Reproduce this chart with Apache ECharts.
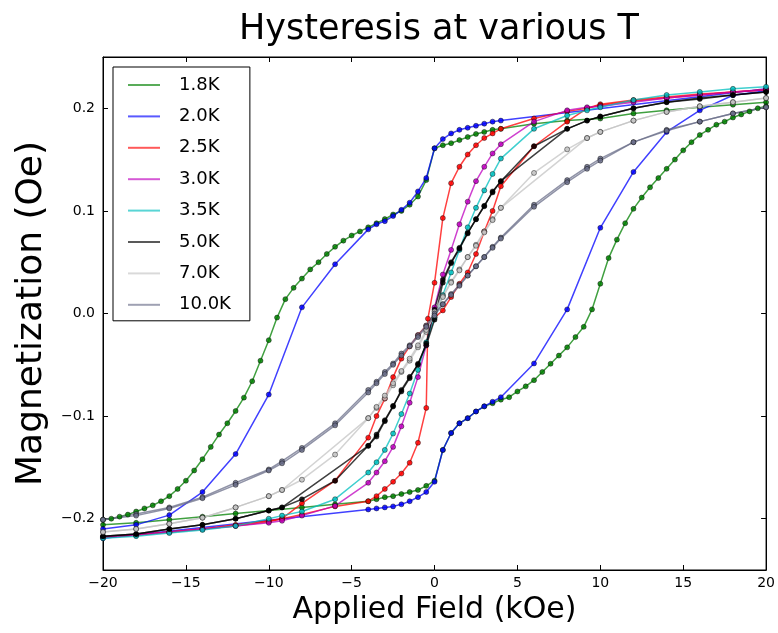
<!DOCTYPE html>
<html><head><meta charset="utf-8">
<script src="https://cdn.jsdelivr.net/npm/echarts@6/dist/echarts.min.js"></script>
<style>html,body{margin:0;padding:0;background:#fff}#c{width:778px;height:633px}</style>
</head><body><div id="c"></div>
<script>
const temps = ['1.8K','2.0K','2.5K','3.0K','3.5K','5.0K','7.0K','10.0K'];
const colors = ['#008000','#0000ff','#ff0000','#bf00bf','#00bfbf','#000000','#c4c4c4','#6b6f8a'];
const xTicks = [-20,-15,-10,-5,0,5,10,15,20];
const yTicks = [-0.2,-0.1,0.0,0.1,0.2];

const t18Down = [[20,0.206],[18,0.2035],[16,0.201],[14,0.198],[12,0.195],[10,0.19],[8,0.188],[6,0.185],[4,0.18],[3.5,0.179],[3,0.177],[2.5,0.175],[2,0.172],[1.5,0.169],[1,0.166],[0.5,0.164],[0,0.161],[-0.5,0.13],[-1,0.114],[-1.5,0.106],[-2,0.1],[-2.5,0.0965],[-3,0.092],[-3.5,0.088],[-4,0.084],[-4.5,0.08],[-5,0.076],[-5.5,0.071],[-6,0.065],[-6.5,0.058],[-7,0.05],[-7.5,0.043],[-8,0.034],[-8.5,0.025],[-9,0.014],[-9.5,-0.004],[-10,-0.026],[-10.5,-0.046],[-11,-0.066],[-11.5,-0.082],[-12,-0.095],[-12.5,-0.107],[-13,-0.118],[-13.5,-0.13],[-14,-0.142],[-14.5,-0.153],[-15,-0.163],[-15.5,-0.171],[-16,-0.178],[-16.5,-0.183],[-17,-0.187],[-17.5,-0.19],[-18,-0.193],[-18.5,-0.196],[-19,-0.198],[-19.5,-0.2],[-20,-0.201]];
const t18Up = [[-20,-0.206],[-18,-0.204],[-16,-0.201],[-14,-0.198],[-12,-0.195],[-10,-0.192],[-8,-0.189],[-6,-0.186],[-4,-0.183],[-3.5,-0.181],[-3,-0.179],[-2.5,-0.178],[-2,-0.176],[-1.5,-0.174],[-1,-0.172],[-0.5,-0.168],[0,-0.163],[0.5,-0.133],[1,-0.1165],[1.5,-0.107],[2,-0.102],[2.5,-0.0955],[3,-0.0905],[3.5,-0.0875],[4,-0.084],[4.5,-0.0816],[5,-0.076],[5.5,-0.071],[6,-0.065],[6.5,-0.057],[7,-0.049],[7.5,-0.041],[8,-0.033],[8.5,-0.023],[9,-0.013],[9.5,0.004],[10,0.029],[10.5,0.054],[11,0.072],[11.5,0.088],[12,0.102],[12.5,0.113],[13,0.123],[13.5,0.132],[14,0.141],[14.5,0.15],[15,0.159],[15.5,0.167],[16,0.174],[16.5,0.179],[17,0.184],[17.5,0.187],[18,0.191],[18.5,0.194],[19,0.197],[19.5,0.2],[20,0.202]];

const t20Down = [[20,0.219],[4,0.188],[3.5,0.187],[3,0.185],[2.5,0.183],[2,0.181],[1.5,0.179],[1,0.1755],[0.5,0.17],[0,0.161],[-0.5,0.132],[-1,0.119],[-1.5,0.108],[-2,0.101],[-2.5,0.095],[-3,0.09],[-3.5,0.087],[-4,0.082],[-6,0.048],[-8,0.006],[-10,-0.079],[-12,-0.137],[-14,-0.174],[-16,-0.1965],[-18,-0.206],[-20,-0.21]];
const t20Up = [[-20,-0.219],[-4,-0.191],[-3.5,-0.19],[-3,-0.189],[-2.5,-0.188],[-2,-0.186],[-1.5,-0.183],[-1,-0.179],[-0.5,-0.174],[0,-0.164],[0.5,-0.133],[1,-0.1165],[1.5,-0.107],[2,-0.102],[2.5,-0.0955],[3,-0.0905],[3.5,-0.086],[4,-0.0816],[6,-0.0487],[8,0.004],[10,0.0835],[12,0.138],[14,0.177],[16,0.198],[18,0.2127],[20,0.217]];

const t25Down = [[20,0.218],[18,0.216],[16,0.214],[14,0.211],[12,0.208],[10,0.204],[9.2,0.2],[8,0.197],[6,0.19],[4,0.18],[3.5,0.1755],[3,0.171],[2.5,0.164],[2,0.155],[1.5,0.143],[1,0.127],[0.5,0.093],[0,0.03],[-0.4,-0.005],[-0.5,-0.092],[-1,-0.126],[-1.5,-0.1455],[-2,-0.156],[-2.5,-0.164],[-3,-0.171],[-3.5,-0.178],[-4,-0.183],[-6,-0.188],[-8,-0.196],[-9.2,-0.2],[-10,-0.203],[-12,-0.207],[-14,-0.21],[-16,-0.213],[-18,-0.216],[-20,-0.218]];
const t25Up = [[-20,-0.218],[-18,-0.216],[-16,-0.213],[-14,-0.21],[-12,-0.206],[-10,-0.202],[-9.2,-0.2],[-8,-0.185],[-6,-0.163],[-4,-0.121],[-3.5,-0.1],[-3,-0.083],[-2.5,-0.062],[-2,-0.044],[-1.5,-0.032],[-1,-0.021],[-0.5,-0.012],[0,-0.004],[0.5,0.003],[1,0.016],[1.5,0.029],[2,0.04],[2.5,0.058],[3,0.08],[3.5,0.1],[4,0.124],[6,0.163],[8,0.187],[9.2,0.2],[10,0.203],[12,0.207],[14,0.21],[16,0.213],[18,0.216],[20,0.218]];

const t30Loop = [[20,0.218],[18,0.216],[16,0.213],[14,0.21],[12,0.206],[10,0.202],[9.2,0.201],[8,0.198],[6,0.187],[4,0.165],[3.5,0.156],[3,0.143],[2.5,0.129],[2,0.109],[1.5,0.087],[1,0.062],[0.5,0.038],[0,0.006],[-0.5,-0.031],[-1,-0.062],[-1.5,-0.087],[-2,-0.11],[-2.5,-0.13],[-3,-0.144],[-3.5,-0.155],[-4,-0.165],[-6,-0.1875],[-8,-0.197],[-9.2,-0.202],[-10,-0.204],[-12,-0.207],[-14,-0.21],[-16,-0.213],[-18,-0.216],[-20,-0.218]];

const t35Loop = [[20,0.221],[18,0.219],[16,0.216],[14,0.213],[12,0.208],[10,0.201],[9.2,0.198],[8,0.193],[6,0.18],[4,0.151],[3.5,0.136],[3,0.12],[2.5,0.103],[2,0.084],[1.5,0.062],[1,0.04],[0.5,0.018],[0,-0.004],[-0.5,-0.028],[-1,-0.055],[-1.5,-0.078],[-2,-0.098],[-2.5,-0.117],[-3,-0.133],[-3.5,-0.145],[-4,-0.155],[-6,-0.181],[-8,-0.193],[-9.2,-0.197],[-10,-0.2],[-12,-0.207],[-14,-0.211],[-16,-0.214],[-18,-0.217],[-20,-0.219]];

const t50Down = [[20,0.216],[18,0.213],[16,0.209],[14,0.206],[12,0.2],[10,0.192],[9.2,0.188],[8,0.18],[6,0.163],[4,0.129],[3.5,0.119],[3,0.1045],[2.5,0.0917],[2,0.0787],[1.5,0.064],[1,0.05],[0.5,0.033],[0,0.004],[-0.5,-0.029],[-1,-0.05],[-1.5,-0.0617],[-2,-0.0745],[-2.5,-0.0907],[-3,-0.105],[-3.5,-0.12],[-4,-0.129],[-6,-0.163],[-8,-0.181],[-9.2,-0.189],[-10,-0.192],[-12,-0.2],[-14,-0.206],[-16,-0.21],[-18,-0.215],[-20,-0.217]];
const t50Up = [[-20,-0.217],[-18,-0.215],[-16,-0.21],[-14,-0.206],[-12,-0.2],[-10,-0.192],[-9.2,-0.189],[-4,-0.129],[-3.5,-0.118],[-3,-0.104],[-2.5,-0.09],[-2,-0.076],[-1.5,-0.063],[-1,-0.049],[-0.5,-0.031],[0,-0.006],[0.5,0.03],[1,0.049],[1.5,0.063],[2,0.078],[2.5,0.092],[3,0.105],[3.5,0.118],[4,0.129],[8,0.18],[9.2,0.188],[10,0.192],[12,0.2],[14,0.206],[16,0.21],[18,0.213],[20,0.216]];

const t70Down = [[20,0.21],[18,0.206],[16,0.202],[14,0.1965],[12,0.188],[10,0.177],[9.2,0.171],[8,0.16],[6,0.137],[4,0.103],[3.5,0.092],[3,0.08],[2.5,0.067],[2,0.055],[1.5,0.043],[1,0.031],[0.5,0.017],[0,0.002],[-0.5,-0.018],[-1,-0.033],[-1.5,-0.046],[-2,-0.057],[-2.5,-0.07],[-3,-0.0826],[-3.5,-0.092],[-4,-0.102],[-6,-0.1375],[-8,-0.162],[-9.2,-0.172],[-10,-0.178],[-12,-0.189],[-14,-0.199],[-16,-0.205],[-18,-0.21],[-20,-0.213]];
const t70Up = [[-20,-0.213],[-18,-0.21],[-16,-0.205],[-14,-0.199],[-12,-0.189],[-10,-0.178],[-9.2,-0.172],[-4,-0.102],[-3.5,-0.091],[-3,-0.08],[-2.5,-0.068],[-2,-0.056],[-1.5,-0.044],[-1,-0.031],[-0.5,-0.016],[0,-0.002],[0.5,0.016],[1,0.03],[1.5,0.042],[2,0.055],[2.5,0.066],[3,0.079],[3.5,0.091],[4,0.103],[9.2,0.171],[10,0.177],[12,0.188],[14,0.1965],[16,0.202],[18,0.206],[20,0.21]];

const t100Down = [[20,0.201],[18,0.195],[16,0.187],[14,0.179],[12,0.167],[10,0.151],[9.2,0.143],[8,0.13],[6,0.106],[4,0.074],[3.5,0.065],[3,0.055],[2.5,0.046],[2,0.037],[1.5,0.028],[1,0.019],[0.5,0.009],[0,0.0],[-0.5,-0.0116],[-1,-0.0213],[-1.5,-0.031],[-2,-0.039],[-2.5,-0.0487],[-3,-0.057],[-3.5,-0.0665],[-4,-0.0745],[-6,-0.107],[-8,-0.131],[-9.2,-0.144],[-10,-0.152],[-12,-0.165],[-14,-0.179],[-16,-0.189],[-18,-0.1955],[-20,-0.201]];
const t100Up = [[-20,-0.201],[-18,-0.197],[-16,-0.19],[-14,-0.18],[-12,-0.167],[-10,-0.153],[-9.2,-0.146],[-8,-0.133],[-6,-0.109],[-4,-0.077],[-3.5,-0.068],[-3,-0.059],[-2.5,-0.05],[-2,-0.041],[-1.5,-0.032],[-1,-0.023],[-0.5,-0.013],[0,-0.002],[0.5,0.009],[1,0.018],[1.5,0.027],[2,0.037],[2.5,0.046],[3,0.055],[3.5,0.064],[4,0.073],[6,0.104],[8,0.128],[9.2,0.141],[10,0.149],[12,0.167],[14,0.178],[16,0.187],[18,0.195],[20,0.201]];

const branches = [
  [t18Down, t18Up], [t20Down, t20Up], [t25Down, t25Up], [t30Loop],
  [t35Loop], [t50Down, t50Up], [t70Down, t70Up], [t100Down, t100Up]
];

const FONT = 'DejaVu Sans';
function fmt(v, d) {
  const s = Math.abs(v).toFixed(d);
  return (v < -1e-9 ? '\u2212' : '') + s;
}

const series = [];
temps.forEach((name, i) => {
  branches[i].forEach(data => {
    series.push({
      name: name, type: 'line', data: data,
      xAxisIndex: 0, yAxisIndex: 0,
      symbol: 'circle', symbolSize: 5,
      lineStyle: { color: colors[i], width: 1.5, opacity: 0.75 },
      itemStyle: { color: colors[i], borderColor: '#000', borderWidth: 0.5, opacity: 0.85 },
      emphasis: { disabled: true },
      animation: false
    });
  });
});

const axisBase = {
  axisLine: { show: true, onZero: false, lineStyle: { color: '#000', width: 1 } },
  axisTick: { show: true, inside: true, length: 5, lineStyle: { color: '#000' } },
  splitLine: { show: false }
};

const chart = echarts.init(document.getElementById('c'), null, { renderer: 'canvas' });
chart.setOption({
  backgroundColor: '#fff',
  animation: false,
  title: {
    text: 'Hysteresis at various T', left: 434, top: 7, textAlign: 'center',
    textStyle: { fontFamily: FONT, fontSize: 35, fontWeight: 'normal', color: '#000' }
  },
  grid: { left: 103, right: 11, top: 57, bottom: 63, show: true, borderColor: '#000', borderWidth: 1, backgroundColor: 'transparent' },
  legend: {
    data: temps, orient: 'vertical', left: 113, top: 67,
    padding: [9, 19, 7, 15], itemGap: 13.4, itemWidth: 32, itemHeight: 2, icon: 'rect',
    itemStyle: { borderWidth: 0, opacity: 0.65 },
    borderColor: '#000', borderWidth: 1, backgroundColor: '#fff',
    textStyle: { fontFamily: FONT, fontSize: 18, color: '#000', padding: [0, 0, 0, 14] },
    selectedMode: false
  },
  xAxis: [Object.assign({
    type: 'value', min: xTicks[0], max: xTicks[xTicks.length - 1], interval: 5,
    name: 'Applied Field (kOe)', nameLocation: 'middle', nameGap: 23,
    nameTextStyle: { fontFamily: FONT, fontSize: 30, color: '#000' },
    axisLabel: { fontFamily: FONT, fontSize: 14, color: '#000', margin: 6, formatter: v => fmt(v, 0) }
  }, axisBase), Object.assign({
    type: 'value', position: 'top', min: xTicks[0], max: xTicks[xTicks.length - 1], interval: 5,
    axisLabel: { show: false }
  }, axisBase)],
  yAxis: [Object.assign({
    type: 'value', min: -0.25, max: 0.25, splitNumber: 5,
    name: 'Magnetization (Oe)', nameLocation: 'middle', nameGap: 51, nameRotate: 90,
    nameTextStyle: { fontFamily: FONT, fontSize: 36, color: '#000' },
    axisLabel: { fontFamily: FONT, fontSize: 14, color: '#000', margin: 8, showMinLabel: false, showMaxLabel: false,
      formatter: v => (yTicks.some(t => Math.abs(t - v) < 1e-6) ? fmt(v, 1) : '') }
  }, axisBase), Object.assign({
    type: 'value', position: 'right', min: -0.25, max: 0.25, splitNumber: 5,
    axisLabel: { show: false }
  }, axisBase)],
  series: series
});
</script>
</body></html>
